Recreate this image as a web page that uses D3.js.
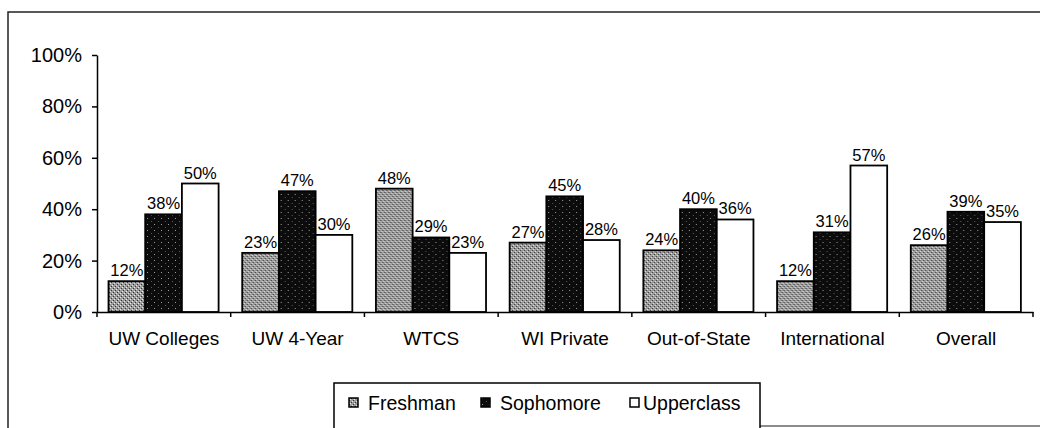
<!DOCTYPE html>
<html>
<head>
<meta charset="utf-8">
<script src="https://cdn.jsdelivr.net/npm/d3@7"></script>
<style>
  body { margin: 0; background: #fff; }
  text { font-family: "Liberation Sans", Arial, sans-serif; fill: #000; }
</style>
</head>
<body>
<div id="chart"></div>
<script>
const categories = ['UW Colleges', 'UW 4-Year', 'WTCS', 'WI Private', 'Out-of-State', 'International', 'Overall']
const seriesNames = ['Freshman', 'Sophomore', 'Upperclass']
const freshman = [12, 23, 48, 27, 24, 12, 26]
const sophomore = [38, 47, 29, 45, 40, 31, 39]
const upperclass = [50, 30, 23, 28, 36, 57, 35]
const yTicks = [0, 20, 40, 60, 80, 100]

const width = 1040
const height = 428
const plot = { left: 97, right: 1033, top: 55, bottom: 312 }

const svg = d3.select('#chart').append('svg')
  .attr('width', width)
  .attr('height', height)

// fill textures, like the scanned print
const defs = svg.append('defs')
const pFresh = defs.append('pattern').attr('id', 'p-fresh')
  .attr('width', 4).attr('height', 4).attr('patternUnits', 'userSpaceOnUse')
pFresh.append('rect').attr('width', 4).attr('height', 4).attr('fill', '#9c9c9c')
pFresh.append('rect').attr('x', 0).attr('y', 0).attr('width', 1).attr('height', 1).attr('fill', '#333')
pFresh.append('rect').attr('x', 2).attr('y', 2).attr('width', 1).attr('height', 1).attr('fill', '#333')
pFresh.append('rect').attr('x', 1).attr('y', 3).attr('width', 1).attr('height', 1).attr('fill', '#e8e8e8')
pFresh.append('rect').attr('x', 3).attr('y', 1).attr('width', 1).attr('height', 1).attr('fill', '#e8e8e8')

const pSoph = defs.append('pattern').attr('id', 'p-soph')
  .attr('width', 7).attr('height', 6).attr('patternUnits', 'userSpaceOnUse')
pSoph.append('rect').attr('width', 7).attr('height', 6).attr('fill', '#0c0c0c')
pSoph.append('rect').attr('x', 1).attr('y', 2).attr('width', 1).attr('height', 1).attr('fill', '#9a9a9a')
pSoph.append('rect').attr('x', 5).attr('y', 5).attr('width', 1).attr('height', 1).attr('fill', '#5a5a5a')

const fills = ['url(#p-fresh)', 'url(#p-soph)', '#fff']

// outer frame (cropped scan)
const frame = svg.append('g').attr('fill', 'none').attr('stroke', '#222').attr('stroke-width', 1.5)
frame.append('path').attr('d', 'M8,430 L8,12 L1040,12')
frame.append('path').attr('d', 'M760,426 L1040,426').attr('stroke', '#666')

const x0 = d3.scaleBand()
  .domain(categories)
  .range([plot.left, plot.right])
  .paddingInner(0)
  .paddingOuter(0)

const barW = 36.7
const barOffset = 11.5
const x1 = d3.scaleBand()
  .domain(seriesNames)
  .range([barOffset, barOffset + barW * 3])

const y = d3.scaleLinear()
  .domain([0, 100])
  .range([plot.bottom, plot.top])

// y axis
const yAxis = d3.axisLeft(y)
  .tickValues(yTicks)
  .tickFormat(d => d + '%')
  .tickSize(5)
  .tickSizeOuter(0)
  .tickPadding(10)

const gy = svg.append('g')
  .attr('transform', 'translate(' + plot.left + ',0)')
  .call(yAxis)
gy.select('.domain').attr('stroke', '#000').attr('stroke-width', 1.5)
gy.selectAll('.tick line').attr('stroke', '#000').attr('stroke-width', 1.5)
gy.selectAll('.tick text').attr('font-size', 20).style('font-family', '"Liberation Sans", Arial, sans-serif')

// bars
const data = categories.map((c, i) => ({
  key: c,
  values: [freshman[i], sophomore[i], upperclass[i]].map((v, j) => ({ series: seriesNames[j], value: v, idx: j }))
}))

const groups = svg.selectAll('g.group')
  .data(data)
  .enter()
  .append('g')
  .attr('class', 'group')
  .attr('transform', d => 'translate(' + x0(d.key) + ',0)')

groups.selectAll('rect')
  .data(d => d.values)
  .enter()
  .append('rect')
  .attr('x', d => x1(d.series))
  .attr('y', d => y(d.value))
  .attr('width', x1.bandwidth())
  .attr('height', d => y(0) - y(d.value))
  .attr('fill', d => fills[d.idx])
  .attr('stroke', '#000')
  .attr('stroke-width', 1.8)

groups.selectAll('text.val')
  .data(d => d.values)
  .enter()
  .append('text')
  .attr('class', 'val')
  .attr('x', d => x1(d.series) + x1.bandwidth() / 2)
  .attr('y', d => y(d.value) - 5)
  .attr('text-anchor', 'middle')
  .attr('font-size', 16.5)
  .text(d => d.value + '%')

// x axis
const xAxis = d3.axisBottom(x0).tickSize(0).tickPadding(20).tickSizeOuter(0)
const gx = svg.append('g')
  .attr('transform', 'translate(0,' + plot.bottom + ')')
  .call(xAxis)
gx.select('.domain').attr('stroke', '#000').attr('stroke-width', 1.5)
gx.selectAll('.tick text').attr('font-size', 19)
  .style('font-family', '"Liberation Sans", Arial, sans-serif')

const bounds = categories.map(c => x0(c)).concat([plot.right])
gx.selectAll('line.sep')
  .data(bounds)
  .enter()
  .append('line')
  .attr('class', 'sep')
  .attr('x1', d => d).attr('x2', d => d)
  .attr('y1', 0).attr('y2', 5)
  .attr('stroke', '#000')
  .attr('stroke-width', 1.5)

// legend
const legend = svg.append('g')
legend.append('rect')
  .attr('x', 334).attr('y', 383)
  .attr('width', 426).attr('height', 60)
  .attr('fill', '#fff').attr('stroke', '#000').attr('stroke-width', 1.5)

const legendX = [349, 481, 630]
const items = legend.selectAll('g.item')
  .data(seriesNames)
  .enter()
  .append('g')
  .attr('class', 'item')
  .attr('transform', (d, i) => 'translate(' + legendX[i] + ',0)')

items.append('rect')
  .attr('x', 0).attr('y', 398)
  .attr('width', 9).attr('height', 9)
  .attr('fill', (d, i) => fills[i])
  .attr('stroke', '#000').attr('stroke-width', 1.5)

items.append('text')
  .attr('x', (d, i) => i === 2 ? 13 : 19)
  .attr('y', 410)
  .attr('font-size', 19.5)
  .text(d => d)
</script>
</body>
</html>
